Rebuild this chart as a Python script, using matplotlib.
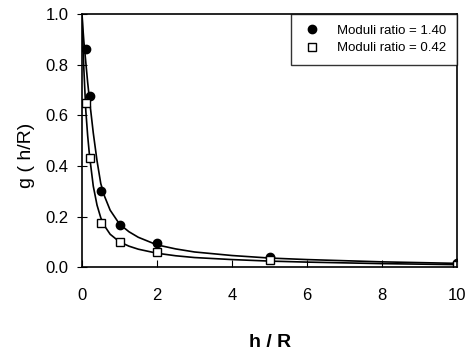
import matplotlib
matplotlib.use("Agg")
import matplotlib.pyplot as plt

plt.rcParams['font.family'] = ['Liberation Sans', 'DejaVu Sans']

# measured points
h_pts = [0.1, 0.2, 0.5, 1.0, 2.0, 5.0, 10.0]
g_high = [0.86, 0.675, 0.30, 0.165, 0.095, 0.04, 0.015]   # moduli ratio 1.40
g_low = [0.65, 0.43, 0.175, 0.10, 0.06, 0.03, 0.01]       # moduli ratio 0.42

# fitted curves
h_fit = [0.0, 0.02, 0.05, 0.1, 0.15, 0.2, 0.3, 0.4, 0.5, 0.6, 0.75, 1.0, 1.25,
         1.5, 2.0, 2.5, 3.0, 4.0, 5.0, 6.0, 8.0, 10.0]
fit_high = [1.0, 0.95, 0.89, 0.81, 0.73, 0.66, 0.53, 0.42, 0.33, 0.28, 0.225,
            0.17, 0.14, 0.118, 0.088, 0.072, 0.06, 0.046, 0.036, 0.03, 0.021, 0.015]
fit_low = [1.0, 0.90, 0.78, 0.62, 0.52, 0.44, 0.32, 0.245, 0.195, 0.163, 0.13,
           0.10, 0.083, 0.071, 0.055, 0.045, 0.038, 0.03, 0.024, 0.02, 0.014, 0.01]

fig = plt.figure(figsize=(4.66, 3.64), dpi=100)
ax = fig.add_axes((0.176, 0.266, 0.805, 0.696))

ax.plot(h_fit, fit_high, '-', color='black', lw=1.2)
ax.plot(h_fit, fit_low, '-', color='black', lw=1.2)
ax.plot(h_pts, g_high, 'o', color='black', ms=6, label='Moduli ratio = 1.40')
ax.plot(h_pts, g_low, 's', mfc='white', mec='black', mew=1.0, ms=5.5,
        label='Moduli ratio = 0.42')

ax.set_xlim(0, 10)
ax.set_ylim(0, 1.0)
ax.set_xticks([0, 2, 4, 6, 8, 10])
ax.set_yticks([0.0, 0.2, 0.4, 0.6, 0.8, 1.0])
ax.set_yticklabels(['0.0', '0.2', '0.4', '0.6', '0.8', '1.0'])
ax.tick_params(axis='x', direction='in', length=5, labelsize=12, pad=15)
ax.tick_params(axis='y', direction='inout', length=7, labelsize=12, pad=6)
for s in ax.spines.values():
    s.set_linewidth(1.2)

ax.set_xlabel('h / R', fontsize=14, fontweight='bold', labelpad=22)
ax.set_ylabel('g ( h/R)', fontsize=14, labelpad=8)
ax.yaxis.set_label_coords(-0.125, 0.443)

leg = ax.legend(loc='upper right', borderaxespad=0, fancybox=False,
                edgecolor='black', fontsize=9.5, handlelength=1.5,
                handletextpad=1.2, borderpad=0.8, labelspacing=0.4)
leg.get_frame().set_linewidth(1.0)

fig.savefig('out.png', dpi=100)
